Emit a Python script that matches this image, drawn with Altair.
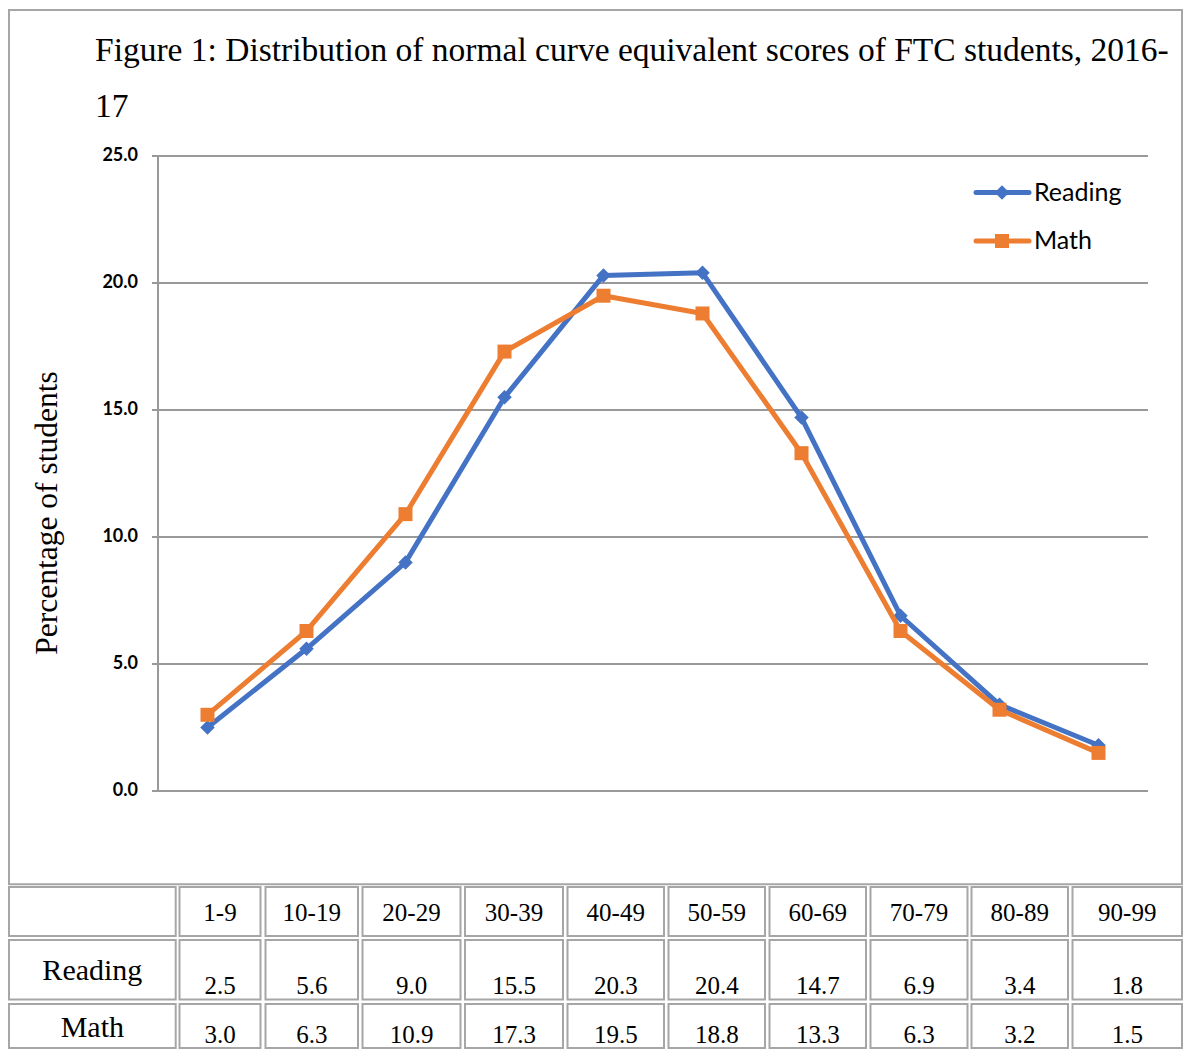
import altair as alt
import pandas as pd

# ---------------- data ----------------
CATEGORIES = ["1-9", "10-19", "20-29", "30-39", "40-49", "50-59", "60-69", "70-79", "80-89", "90-99"]
READING = [2.5, 5.6, 9.0, 15.5, 20.3, 20.4, 14.7, 6.9, 3.4, 1.8]
MATH = [3.0, 6.3, 10.9, 17.3, 19.5, 18.8, 13.3, 6.3, 3.2, 1.5]
SERIES = ["Reading", "Math"]
Y_TICKS = [0, 5, 10, 15, 20, 25]
TITLE_LINES = ["Figure 1: Distribution of normal curve equivalent scores of FTC students, 2016-", "17"]
Y_TITLE = "Percentage of students"

# ---------------- styles / layout ----------------
COLORS = ["#4472C4", "#ED7D31"]
SHAPES = ["diamond", "square"]
SIZES = [210, 196]
GRID = "#999999"
BORDER = "#a6a6a6"
SERIF = "Liberation Serif"
SANS = "Lato"
W, H = 1175, 1041
OFF = 8  # page margin


def p(v):
    return v - OFF


# plot area (svg px)
PX0, PX1 = p(158), p(1148)
PY0, PY1 = p(791), p(156)

xs = alt.Scale(type="point", domain=CATEGORIES, range=[PX0, PX1], padding=0.5)
ys = alt.Scale(type="linear", domain=[0, 25], range=[PY0, PY1], nice=False, zero=False)

ticks = pd.DataFrame({"t": Y_TICKS})
grid = alt.Chart(ticks).mark_rule(color=GRID, strokeWidth=2).encode(
    y=alt.Y("t:Q", scale=ys, axis=None), x=alt.value(PX0 - 6), x2=alt.value(PX1)
)
yaxis = alt.Chart(pd.DataFrame({"a": [Y_TICKS[0]], "b": [Y_TICKS[-1]]})).mark_rule(
    color=GRID, strokeWidth=2
).encode(x=alt.value(PX0), y=alt.Y("a:Q", scale=ys, axis=None), y2="b:Q")
tick_labels = alt.Chart(ticks).mark_text(
    align="right", baseline="middle", font=SANS, fontSize=18, fontWeight="bold", color="#000000"
).encode(y=alt.Y("t:Q", scale=ys, axis=None), x=alt.value(PX0 - 20), text=alt.Text("t:Q", format=".1f"))

plot_layers = [grid, yaxis, tick_labels]
for name, vals, col, shp, sz in zip(SERIES, [READING, MATH], COLORS, SHAPES, SIZES):
    d = pd.DataFrame({"band": CATEGORIES, "value": vals, "idx": list(range(len(CATEGORIES)))})
    line = alt.Chart(d).mark_line(color=col, strokeWidth=5, strokeJoin="round", strokeCap="round").encode(
        x=alt.X("band:N", scale=xs, axis=None), y=alt.Y("value:Q", scale=ys, axis=None), order="idx:Q"
    )
    pts = alt.Chart(d).mark_point(shape=shp, filled=True, color=col, size=sz, opacity=1).encode(
        x=alt.X("band:N", scale=xs, axis=None), y=alt.Y("value:Q", scale=ys, axis=None)
    )
    plot_layers += [line, pts]
plot = alt.layer(*plot_layers)

# ---------------- table (piecewise scales for cell edges) ----------------
COL_L = [9, 179.5, 265.5, 362.5, 465, 567.5, 668.5, 769.5, 870.5, 971.5, 1072.5]
COL_R = [175.7, 260.5, 358, 460.5, 563, 664, 765, 866, 967.5, 1068, 1182]
ROW_T = [887, 940, 1004]
ROW_B = [936, 999.5, 1048]
x_rng, y_rng = [], []
for a, b in zip(COL_L, COL_R):
    x_rng += [p(a), p(b)]
for a, b in zip(ROW_T, ROW_B):
    y_rng += [p(a), p(b)]
txs = alt.Scale(type="linear", domain=list(range(len(x_rng))), range=x_rng, nice=False, zero=False)
tys = alt.Scale(type="linear", domain=list(range(len(y_rng))), range=y_rng, nice=False, zero=False)

ncol = len(CATEGORIES) + 1
cells = pd.DataFrame(
    [{"x0": 2 * c, "x1": 2 * c + 1, "y0": 2 * r, "y1": 2 * r + 1} for r in range(3) for c in range(ncol)]
)
rects = alt.Chart(cells).mark_rect(fillOpacity=0, stroke=BORDER, strokeWidth=2).encode(
    x=alt.X("x0:Q", scale=txs, axis=None), x2="x1:Q", y=alt.Y("y0:Q", scale=tys, axis=None), y2="y1:Q"
)

# text baselines inside rows (page px)
HEAD_BASE = 921
VAL_BASE = [994, 1043]
LAB_BASE = [980, 1037]


def yfrac(r, base):
    return 2 * r + (base - ROW_T[r]) / (ROW_B[r] - ROW_T[r])


small_rows = []
for c, cat in enumerate(CATEGORIES):
    small_rows.append({"x": 2 * (c + 1) + 0.5, "y": yfrac(0, HEAD_BASE), "txt": cat})
for r, (vals, base) in enumerate(zip([READING, MATH], VAL_BASE), start=1):
    for c, v in enumerate(vals):
        small_rows.append({"x": 2 * (c + 1) + 0.5, "y": yfrac(r, base), "txt": f"{v:.1f}"})
big_rows = [
    {"x": 0.5, "y": yfrac(r, base), "txt": name}
    for r, (name, base) in enumerate(zip(SERIES, LAB_BASE), start=1)
]
small_txt = alt.Chart(pd.DataFrame(small_rows)).mark_text(
    font=SERIF, fontSize=25, align="center", baseline="alphabetic", color="#000000"
).encode(x=alt.X("x:Q", scale=txs, axis=None), y=alt.Y("y:Q", scale=tys, axis=None), text="txt:N")
big_txt = alt.Chart(pd.DataFrame(big_rows)).mark_text(
    font=SERIF, fontSize=30, align="center", baseline="alphabetic", color="#000000"
).encode(x=alt.X("x:Q", scale=txs, axis=None), y=alt.Y("y:Q", scale=tys, axis=None), text="txt:N")
table = alt.layer(rects, small_txt, big_txt)

# ---------------- decorations: frame, titles, legend ----------------
one = pd.DataFrame({"a": [0]})
frame = alt.Chart(one).mark_rect(fillOpacity=0, stroke=BORDER, strokeWidth=2).encode(
    x=alt.value(p(9)), x2=alt.value(p(1182)), y=alt.value(p(10)), y2=alt.value(p(884.3))
)
title = alt.Chart(one).mark_text(
    text=TITLE_LINES, font=SERIF, fontSize=33.5, align="left", baseline="alphabetic", lineHeight=56, color="#000000"
).encode(x=alt.value(p(95)), y=alt.value(p(61)))
ytitle = alt.Chart(one).mark_text(
    text=Y_TITLE, font=SERIF, fontSize=31.5, angle=270, align="center", baseline="middle", color="#000000"
).encode(x=alt.value(p(48)), y=alt.value(p(513)))

leg = pd.DataFrame({"series": SERIES, "ly": [p(192.5) + 48.5 * i for i in range(len(SERIES))]})
ly = alt.Y("ly:Q", scale=None)
cscale = alt.Scale(domain=SERIES, range=COLORS)
leg_line = alt.Chart(leg).mark_rule(strokeWidth=5, strokeCap="round").encode(
    x=alt.value(p(976)), x2=alt.value(p(1029)), y=ly, color=alt.Color("series:N", scale=cscale, legend=None)
)
leg_pts = alt.Chart(leg).mark_point(filled=True, opacity=1).encode(
    x=alt.value(p(1002)),
    y=ly,
    color=alt.Color("series:N", scale=cscale, legend=None),
    shape=alt.Shape("series:N", scale=alt.Scale(domain=SERIES, range=SHAPES), legend=None),
    size=alt.Size("series:N", scale=alt.Scale(domain=SERIES, range=SIZES), legend=None),
)
leg_txt = alt.Chart(leg).mark_text(
    font=SANS, fontSize=25, align="left", baseline="middle", color="#000000"
).encode(x=alt.value(p(1034)), y=ly, text="series:N")
deco = alt.layer(frame, title, ytitle, leg_line, leg_pts, leg_txt)

chart = (
    alt.layer(plot, table, deco)
    .resolve_scale(x="independent", y="independent")
    .properties(width=W, height=H, padding=0, autosize=alt.AutoSizeParams(type="none"), background="white")
    .configure_view(stroke=None)
)
chart.save("out.html", embed_options={"renderer": "svg", "actions": False})
